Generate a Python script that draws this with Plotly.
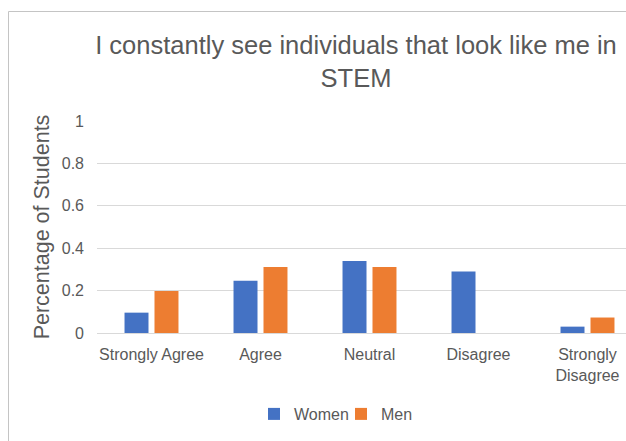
import plotly.graph_objects as go

categories = ["Strongly Agree", "Agree", "Neutral", "Disagree", "Strongly<br>Disagree"]
women = [0.096, 0.247, 0.34, 0.29, 0.03]
men = [0.198, 0.311, 0.311, 0.0, 0.073]
series_names = ["Women", "Men"]
colors = ["#4472C4", "#ED7D31"]
yticks = [0, 0.2, 0.4, 0.6, 0.8, 1]
yticktext = ["0", "0.2", "0.4", "0.6", "0.8", "1"]

W, H = 626, 441
ML, MR, MT, MB = 97, 0, 121, 108
plot_w = W - ML - MR
plot_h = H - MT - MB
cat_px = 109.0

font_family = "Liberation Sans, Arial, Helvetica, sans-serif"
grey = "#595959"

fig = go.Figure()
for name, vals, col in zip(series_names, [women, men], colors):
    fig.add_trace(go.Bar(x=categories, y=vals, name=name, marker_color=col,
                         marker_line_width=0))

# chart border (extends past the right/bottom edges as in the cropped reference)
bx0 = (8.5 - ML) / plot_w
by1 = (MT + plot_h - 11.5) / plot_h
fig.add_shape(type="rect", xref="paper", yref="paper",
              x0=bx0, x1=1.3, y0=-0.8, y1=by1,
              line=dict(color="#c4c4c4", width=1), fillcolor="rgba(0,0,0,0)",
              layer="below")

fig.update_layout(
    width=W, height=H,
    margin=dict(l=ML, r=MR, t=MT, b=MB, autoexpand=False),
    paper_bgcolor="white", plot_bgcolor="white",
    font=dict(family=font_family, color=grey, size=16),
    title=dict(text="I constantly see individuals that look like me in<br>STEM",
               font=dict(size=25.5, color=grey, family=font_family),
               x=356 / W, xref="container", xanchor="center",
               y=1 - 54 / H, yref="container", yanchor="top"),
    barmode="group", bargap=0.45, bargroupgap=0.2,
    showlegend=True,
    legend=dict(orientation="h", xref="container", yref="container",
                x=341 / W, xanchor="center", y=1 - 414 / H, yanchor="middle",
                font=dict(size=16, color=grey), bgcolor="rgba(0,0,0,0)",
                itemwidth=30, entrywidth=42, entrywidthmode="pixels",
                tracegroupgap=0),
    xaxis=dict(type="category", range=[-0.5, -0.5 + plot_w / cat_px],
               showgrid=False, showline=False, ticks="", zeroline=False,
               tickfont=dict(size=16, color=grey), ticklabelstandoff=10),
    yaxis=dict(range=[0, 1], tickvals=yticks, ticktext=yticktext,
               showgrid=True, gridcolor="#d9d9d9", gridwidth=1,
               zeroline=True, zerolinecolor="#d9d9d9", zerolinewidth=1,
               showline=False, ticks="", tickfont=dict(size=16, color=grey),
               ticklabelstandoff=12,
               title=dict(text="Percentage of Students",
                          font=dict(size=21.5, color=grey), standoff=6)),
)

fig.write_html("out.html")
